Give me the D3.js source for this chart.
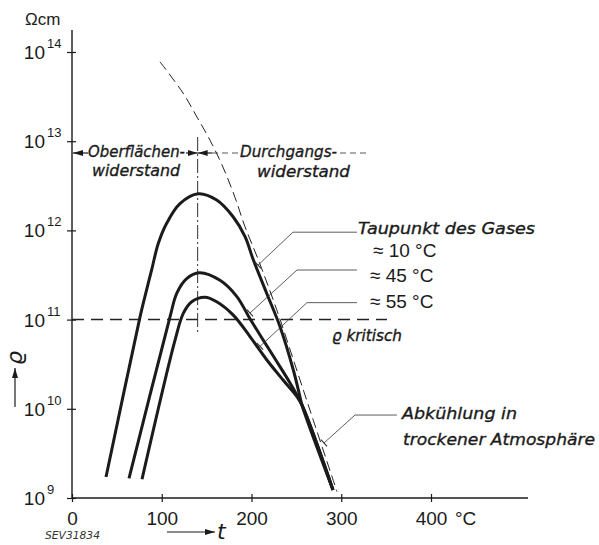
<!DOCTYPE html>
<html>
<head>
<meta charset="utf-8">
<script src="https://cdn.jsdelivr.net/npm/d3@7"></script>
<style>
body{margin:0;background:#fff;}
svg{display:block;}
</style>
</head>
<body>
<div id="vis"></div>
<script>
// axis ticks
var tTicks=[0,100,200,300,400];
var rhoExp=[9,10,11,12,13,14];

// curves: t in °C, lg(rho) with rho in Ohm cm
var t10=[37.9,75.8,81.3,88.8,96.2,105.5,120.3,140.7,161.2,179.7,192.8,202.0,216.9,231.8,246.6,254.0,256.3,290.8];
var lg10=[9.235,11.03,11.26,11.56,11.855,12.08,12.30,12.41,12.34,12.15,11.93,11.67,11.295,10.92,10.435,10.135,10.04,9.09];

var t45=[63.5,109.2,116.7,127.8,141.8,164.9,183.5,198.3,213.1,228.1,242.9,256.3,290.8];
var lg45=[9.22,11.03,11.295,11.46,11.525,11.44,11.26,11.01,10.77,10.53,10.29,10.04,9.09];

var t55=[78.0,114.8,124.0,133.4,148.2,161.2,179.7,198.3,216.9,235.4,250.4,256.3,290.8];
var lg55=[9.21,10.77,11.07,11.20,11.25,11.20,11.05,10.81,10.55,10.32,10.14,10.04,9.09];

// Abkuehlung in trockener Atmosphaere
var tDry=[98.0,123.7,139.3,153.8,168.2,181.6,192.8,207.6,228.1,250.4,268.9,295.3];
var lgDry=[13.89,13.54,13.27,13.01,12.71,12.37,12.04,11.67,11.11,10.435,9.87,9.07];

var rhoKrit=11;
var tBoundary=140;

var graph=d3.select("#vis")
.append("svg")
.attr("width",599)
.attr("height",545);

var x=d3.scaleLinear()
.domain([0,400])
.range([72,431]);

var y=d3.scaleLog()
.domain([1e9,1e14])
.range([498,52]);

var ink="#1b1b1b";
var numFont="'Liberation Sans', Arial, sans-serif";
var handFont="'DejaVu Sans', sans-serif";

function pts(ts,ls){
  return ts.map(function(t,i){return [t,Math.pow(10,ls[i])];});
}

var line=d3.line()
.x(function(d){return x(d[0]);})
.y(function(d){return y(d[1]);})
.curve(d3.curveCatmullRom.alpha(0.5));

// axes
var xAxis=graph.append("g")
.attr("transform","translate(0,"+y(1e9)+")")
.call(d3.axisBottom(x).tickValues(tTicks).tickSize(4).tickFormat(d3.format("d")));
xAxis.select(".domain").remove();
xAxis.selectAll(".tick line").attr("y1",-4).attr("y2",4).attr("stroke",ink).attr("stroke-width",1.2);
xAxis.selectAll(".tick text").attr("y",27).attr("dy",0)
.attr("font-family",numFont).attr("font-size",19).attr("fill",ink);

graph.append("line")
.attr("x1",x(0)).attr("x2",528)
.attr("y1",y(1e9)).attr("y2",y(1e9))
.attr("stroke",ink).attr("stroke-width",1.4);

graph.append("text").text("°C")
.attr("x",455).attr("y",525)
.attr("font-family",numFont).attr("font-size",19).attr("fill",ink);

var yAxis=graph.append("g")
.attr("transform","translate("+x(0)+",0)")
.call(d3.axisLeft(y).tickValues(rhoExp.map(function(e){return Math.pow(10,e);})).tickSize(5).tickFormat(""));
yAxis.select(".domain").remove();
yAxis.selectAll(".tick line").attr("x1",-5).attr("x2",4).attr("stroke",ink).attr("stroke-width",1.2);

graph.append("line")
.attr("x1",x(0)).attr("x2",x(0))
.attr("y1",30).attr("y2",y(1e9))
.attr("stroke",ink).attr("stroke-width",1.4);

var yLab=graph.selectAll(".ylab")
.data(rhoExp)
.enter().append("g")
.attr("class","ylab");
yLab.append("text").text("10")
.attr("x",45).attr("y",function(d){return y(Math.pow(10,d))+7;})
.attr("text-anchor","end")
.attr("font-family",numFont).attr("font-size",19).attr("fill",ink);
yLab.append("text").text(function(d){return d;})
.attr("x",47).attr("y",function(d){return y(Math.pow(10,d))-4;})
.attr("font-family",numFont).attr("font-size",13).attr("fill",ink);

graph.append("text").text("Ωcm")
.attr("x",25).attr("y",25)
.attr("font-family",numFont).attr("font-size",17).attr("fill",ink);

// arrowheads
var defs=graph.append("defs");
defs.append("marker")
.attr("id","arr")
.attr("viewBox","0 0 10 6")
.attr("refX",10).attr("refY",3)
.attr("markerWidth",10).attr("markerHeight",6)
.attr("markerUnits","userSpaceOnUse")
.attr("orient","auto")
.append("path").attr("d","M0,0L10,3L0,6Z").attr("fill",ink);

// axis titles
graph.append("line")
.attr("x1",167).attr("x2",215)
.attr("y1",532).attr("y2",532)
.attr("stroke",ink).attr("stroke-width",1.2)
.attr("marker-end","url(#arr)");
graph.append("text").text("t")
.attr("x",217).attr("y",539)
.attr("font-family",handFont).attr("font-style","italic")
.attr("font-size",22).attr("fill",ink);

graph.append("line")
.attr("x1",15).attr("x2",15)
.attr("y1",407).attr("y2",368)
.attr("stroke",ink).attr("stroke-width",1.2)
.attr("marker-end","url(#arr)");
graph.append("text").text("ϱ")
.attr("transform","translate(22,358)rotate(-90)")
.attr("text-anchor","middle")
.attr("font-family",handFont).attr("font-style","italic")
.attr("font-size",22).attr("fill",ink);

graph.append("text").text("SEV31834")
.attr("x",45).attr("y",539)
.attr("textLength",55).attr("lengthAdjust","spacingAndGlyphs")
.attr("font-family",handFont).attr("font-style","italic")
.attr("font-size",10).attr("fill","#333");

// critical resistivity
graph.append("line")
.attr("x1",x(0)).attr("x2",387)
.attr("y1",y(Math.pow(10,rhoKrit))).attr("y2",y(Math.pow(10,rhoKrit)))
.attr("stroke","#222").attr("stroke-width",1.5)
.attr("stroke-dasharray","12,7");

// boundary between surface and volume resistance
graph.append("line")
.attr("x1",x(tBoundary)).attr("x2",x(tBoundary))
.attr("y1",137).attr("y2",333)
.attr("stroke","#333").attr("stroke-width",1)
.attr("stroke-dasharray","14,3,2,3");

var yArrow=153;
graph.append("line")
.attr("x1",88).attr("x2",x(0)+1)
.attr("y1",yArrow).attr("y2",yArrow)
.attr("stroke",ink).attr("stroke-width",1.2)
.attr("marker-end","url(#arr)");
graph.append("line")
.attr("x1",186).attr("x2",x(tBoundary))
.attr("y1",yArrow).attr("y2",yArrow)
.attr("stroke",ink).attr("stroke-width",1.2)
.attr("marker-end","url(#arr)");
graph.append("line")
.attr("x1",212).attr("x2",x(tBoundary))
.attr("y1",yArrow).attr("y2",yArrow)
.attr("stroke",ink).attr("stroke-width",1.2)
.attr("marker-end","url(#arr)");
graph.append("line")
.attr("x1",212).attr("x2",238)
.attr("y1",yArrow).attr("y2",yArrow)
.attr("stroke","#444").attr("stroke-width",0.9)
.attr("stroke-dasharray","6,4");
graph.append("line")
.attr("x1",340).attr("x2",366)
.attr("y1",yArrow).attr("y2",yArrow)
.attr("stroke","#444").attr("stroke-width",0.9)
.attr("stroke-dasharray","6,4");

// dry cooling curve
graph.append("path")
.datum(pts(tDry,lgDry))
.attr("d",line)
.attr("fill","none")
.attr("stroke","#222").attr("stroke-width",1)
.attr("stroke-dasharray","10,5");

// dew point curves
var curves=[pts(t10,lg10),pts(t45,lg45),pts(t55,lg55)];
graph.selectAll(".curve")
.data(curves)
.enter().append("path")
.attr("class","curve")
.attr("d",line)
.attr("fill","none")
.attr("stroke",ink).attr("stroke-width",3)
.attr("stroke-linecap","butt")
.attr("stroke-linejoin","round");

// leader lines: [tEnd, lgEnd, tKnee, lgKnee, tRight]
var leaders=[
  [207.2,11.61,246.2,11.98,317.5],
  [198.3,11.074,250.7,11.556,317.5],
  [209.5,10.70,261.8,11.19,317.5],
  [280.8,9.617,315.3,9.93,362.0]
];
leaders.forEach(function(l){
  var ex=x(l[0]),ey=y(Math.pow(10,l[1]));
  var kx=x(l[2]),ky=y(Math.pow(10,l[3]));
  graph.append("polyline")
  .attr("points",[[ex,ey],[kx,ky],[x(l[4]),ky]].map(function(p){return p.join(",");}).join(" "))
  .attr("fill","none").attr("stroke","#333").attr("stroke-width",0.8);
  var dx=kx-ex,dy=ky-ey,len=Math.sqrt(dx*dx+dy*dy);
  var px=-dy/len*4.5,py=dx/len*4.5;
  graph.append("line")
  .attr("x1",ex+px).attr("y1",ey+py)
  .attr("x2",ex-px).attr("y2",ey-py)
  .attr("stroke","#333").attr("stroke-width",1.1);
});

// annotation texts
var notes=[
  ["Oberflächen-",88,157,97,16],
  ["widerstand",92,176,88,16],
  ["Durchgangs-",240,157,97,16],
  ["widerstand",257,177,93,16],
  ["Taupunkt des Gases",358,234,177,15],
  ["ϱ kritisch",332,341,70,15],
  ["Abkühlung in",402,419,115,16],
  ["trockener Atmosphäre",403,445,192,16]
];
graph.selectAll(".note")
.data(notes)
.enter().append("text")
.attr("class","note")
.text(function(d){return d[0];})
.attr("x",function(d){return d[1];})
.attr("y",function(d){return d[2];})
.attr("textLength",function(d){return d[3];})
.attr("lengthAdjust","spacingAndGlyphs")
.attr("font-family",handFont).attr("font-style","italic")
.attr("font-size",function(d){return d[4];})
.attr("fill",ink)
.attr("stroke",ink).attr("stroke-width",0.35);

var dew=[["≈ 10 °C",373,257],["≈ 45 °C",370,282],["≈ 55 °C",370,308]];
graph.selectAll(".dew")
.data(dew)
.enter().append("text")
.attr("class","dew")
.text(function(d){return d[0];})
.attr("x",function(d){return d[1];})
.attr("y",function(d){return d[2];})
.attr("font-family",numFont).attr("font-size",19)
.attr("fill",ink);
</script>
</body>
</html>
